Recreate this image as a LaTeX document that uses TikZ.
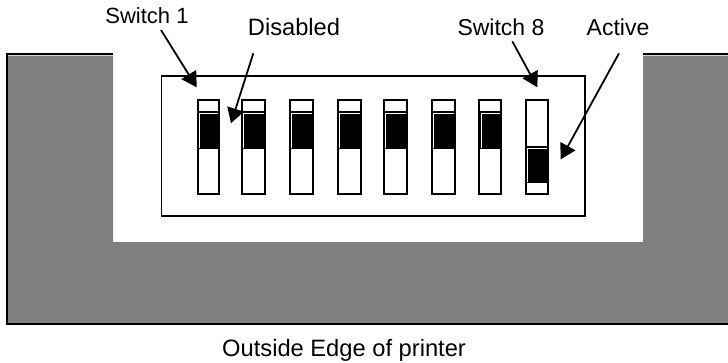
\documentclass[tikz,border=0pt]{standalone}
\usepackage{fontspec}
\setmainfont{Liberation Sans}
\usetikzlibrary{arrows.meta}
\definecolor{panel}{HTML}{808080}
\tikzset{
  lbl/.style={anchor=base,inner sep=0pt,text=black,font=\fontsize{#1}{26}\selectfont},
  lbl/.default=23,
  outline/.style={draw=black,line width=1.7pt},
  swbox/.style={draw=black,line width=2pt},
  callout/.style={draw=black,line width=1.8pt,-{Triangle[length=15pt,width=17pt]}},
}
\begin{document}
\begin{tikzpicture}[x=1pt,y=-1pt]
\useasboundingbox (0,0) rectangle (728,362);
\fill[white] (0,0) rectangle (728,362);
% printer body
\fill[panel] (8,55.5) -- (113,55.5) -- (113,242) -- (643,242) -- (643,55.5) -- (728,55.5) -- (728,323) -- (8,323) -- cycle;
\draw[black,line width=2pt] (113,54) -- (7,54) -- (7,323.7) -- (728,323.7);
\draw[black,line width=2pt] (643,54) -- (728,54);
% DIP module
\draw[outline] (161.5,76) rectangle (584.7,215.7);
% switches in disabled position: left, right
\foreach \l/\r in {197.5/218.7,241.5/264.5,289.5/312.5,337.5/360.5,383.5/406.5,431.5/454.5,479.3/500.5}{
  \fill[black] (\l,111) rectangle (\r,148.5);
  \draw[white,line width=0.9pt] (\l+1.8,148) -- (\l+1.8,113.3) -- (\r-0.8,113.3);
  \draw[swbox] (\l,99.8) rectangle (\r,193.8);
}
% switch 8 in active position
\fill[black] (525.5,146.4) rectangle (548.2,182.7);
\draw[white,line width=0.9pt] (527.3,182) -- (527.3,148.6) -- (547.4,148.6);
\draw[swbox] (525.5,99.8) rectangle (548.2,193.8);
% labels
\node[lbl=22] (sw1) at (147,23.3) {Switch 1};
\node[lbl=23.7] (dis) at (294,35.7) {Disabled};
\node[lbl=23] (sw8) at (501,35.7) {Switch 8};
\node[lbl=23] (act) at (618,35.7) {Active};
\node[lbl=23.7,anchor=base west] (edge) at (222,356) {Outside Edge of printer};
% callouts
\coordinate (sw1s) at (161,30);
\coordinate (sw1t) at (196.7,87.3);
\coordinate (diss) at (253.3,53.3);
\coordinate (dist) at (231,123.3);
\coordinate (sw8s) at (512.3,41.3);
\coordinate (sw8t) at (537.3,87.3);
\coordinate (acts) at (619,53.3);
\coordinate (actt) at (560.7,159.3);
\draw[callout] (sw1s) -- (sw1t);
\draw[callout] (diss) -- (dist);
\draw[callout] (sw8s) -- (sw8t);
\draw[callout] (acts) -- (actt);
\end{tikzpicture}
\end{document}
